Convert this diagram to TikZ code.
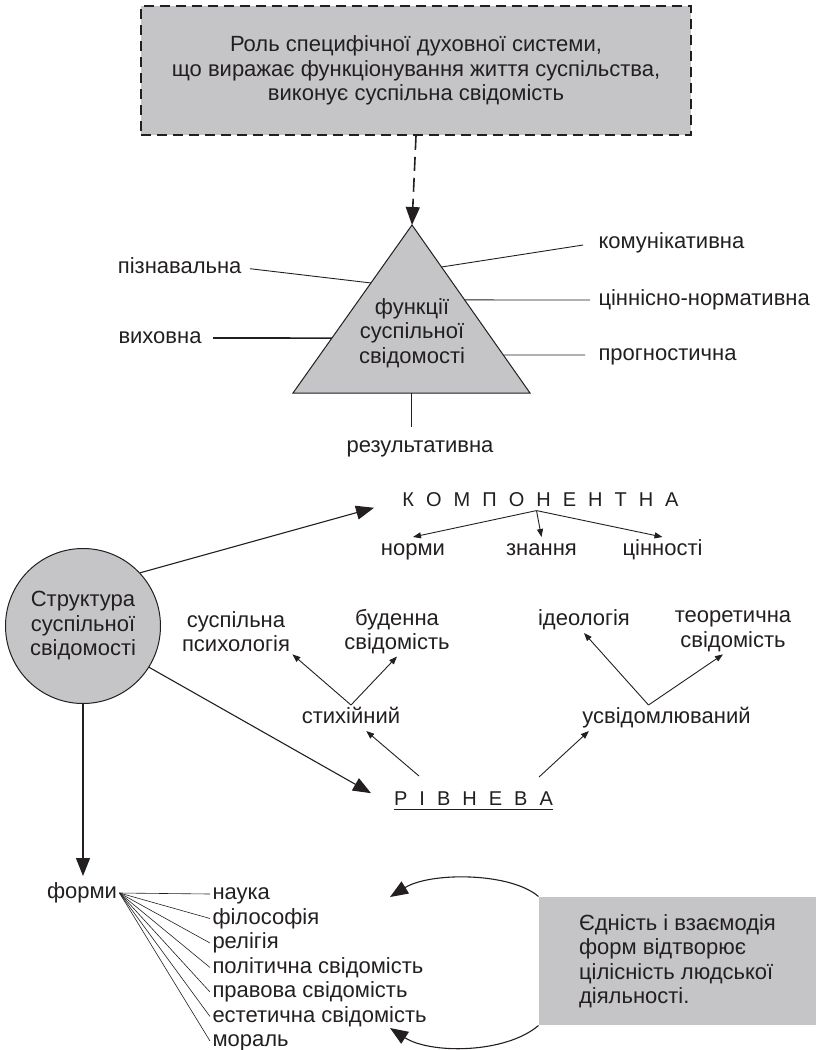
\documentclass[tikz,border=0pt]{standalone}
\usepackage{fontspec}
\setmainfont{Liberation Sans}
\usetikzlibrary{arrows.meta,calc}
\definecolor{fillgray}{RGB}{197,197,199}
\definecolor{ink}{RGB}{35,31,32}
\newcommand\fs{\fontsize{22}{24.5}\selectfont}
\newcommand\fscaps{\fontsize{20}{24}\selectfont\spaceskip=12pt\relax}

\begin{document}
\begin{tikzpicture}[x=1pt,y=-1pt,ink,line width=1pt,
  lbl/.style={font=\fs,inner sep=2pt,text height=16pt,text depth=5pt},
  blk/.style={font=\fs,align=center,inner sep=2pt},
  caps/.style={font=\fscaps,inner sep=0pt},
  bigtip/.style={-{Triangle[length=18pt,width=14pt]},line width=1.1pt},
  smalltip/.style={-{Triangle[length=8pt,width=6pt]},line width=0.9pt},
  thinline/.style={line width=0.9pt},
  thickline/.style={line width=1.6pt},
  fanline/.style={line width=0.6pt}]
  \useasboundingbox (0,0) rectangle (818,1050);

  % ================= роль свідомості (верх) =================
  \node[blk,draw=ink,fill=fillgray,line width=1.6pt,dash pattern=on 10pt off 6pt,
        minimum width=550pt,minimum height=129pt] (role) at (416,70.5)
    {Роль специфічної духовної системи,\\ що виражає функціонування життя суспільства,\\ виконує суспільна свідомість};

  % ================= трикутник функцій =================
  \coordinate (apex) at (412,225);
  \coordinate (bl) at (293,393);
  \coordinate (br) at (530,393);
  \coordinate (tbase) at ($(bl)!0.5!(br)$);
  \draw[fill=fillgray] (apex) -- (br) -- (bl) -- cycle;
  \node[blk] (func) at (412,333) {функції\\суспільної\\свідомості};
  \draw[bigtip,line width=1.6pt,dash pattern=on 14pt off 7pt] (role.south) -- (apex);

  % назви функцій
  \node[lbl,anchor=east] (pizn) at (244,268) {пізнавальна};
  \node[lbl,anchor=west] (vykh) at (116,338) {виховна};
  \node[lbl,anchor=west] (komun) at (596,243) {комунікативна};
  \node[lbl,anchor=west] (tsinn) at (596,300) {ціннісно-нормативна};
  \node[lbl,anchor=west] (progn) at (596,355) {прогностична};
  \node[lbl] (rezul) at (420,447) {результативна};
  \draw[thinline,shorten <=6pt] (pizn.east) -- ($(apex)!0.345!(bl)$);
  \draw[thickline,shorten <=9pt] (vykh.east) -- ($(apex)!0.673!(bl)$);
  \draw[thinline,shorten >=13pt] ($(apex)!0.25!(br)$) -- (komun.west);
  \draw[thinline,shorten >=6pt] ($(apex)!0.446!(br)$) -- (tsinn.west);
  \draw[thinline,shorten >=11pt] ($(apex)!0.774!(br)$) -- (progn.west);
  \draw[thickline,shorten >=7pt] (tbase) -- (tbase |- rezul.north);

  % ================= структура =================
  \node[blk,circle,draw=ink,fill=fillgray,minimum size=155pt,inner sep=0pt] (struct) at (83,626)
    {Структура\\суспільної\\свідомості};

  % компонентна
  \node[caps] (komp) at (540.5,500) {К О М П О Н Е Н Т Н А};
  \draw[bigtip,shorten >=29pt] (struct.43) -- (komp.west);
  \coordinate (kroot) at ($(komp.south)+(-4,3)$);
  \node[lbl] (normy) at (413,550) {норми};
  \node[lbl] (znann) at (541.5,550) {знання};
  \node[lbl] (tsinnosti) at (662.5,550) {цінності};
  \draw[smalltip] (kroot) -- (normy.north);
  \draw[smalltip] (kroot) -- (znann.north);
  \draw[smalltip] (kroot) -- (tsinnosti.north);

  % рівнева
  \node[caps] (riv) at (473.5,798.5) {Р І В Н Е В А};
  \draw[thinline] ([yshift=-4pt]riv.south west) -- ([yshift=-4pt]riv.south east);
  \draw[bigtip,shorten >=26pt] (struct.-32) -- ([yshift=-7.5pt]riv.west);
  \node[lbl] (styx) at (351,718) {стихійний};
  \node[lbl] (usvid) at (666.5,718) {усвідомлюваний};
  \coordinate (rivl) at (419,776);
  \coordinate (rivr) at (539,777);
  \draw[smalltip] (rivl) -- (styx);
  \draw[smalltip] (rivr) -- ([xshift=9pt]usvid.south west);
  \node[blk] (psykh) at (236,631.5) {суспільна\\психологія};
  \node[blk] (buden) at (397,631.5) {буденна\\свідомість};
  \node[lbl] (ideol) at (584,620) {ідеологія};
  \node[blk] (teor) at (733,631.5) {теоретична\\свідомість};
  \draw[smalltip] (styx.north) -- (psykh.south east);
  \draw[smalltip] (styx.north) -- (buden.south);
  \draw[smalltip] ([xshift=-18pt]usvid.north) -- (ideol.south);
  \draw[smalltip] ([xshift=-18pt]usvid.north) -- ([xshift=-10pt]teor.south);

  % ================= форми =================
  \node[lbl] (formy) at (82,893) {форми};
  \draw[bigtip,shorten >=4pt] (struct.south) -- (struct.south |- formy.north);
  \foreach \t [count=\i] in {наука,філософія,релігія,політична свідомість,
      правова свідомість,естетична свідомість,мораль} {
    \node[lbl,anchor=west] (f\i) at (210,869.5+24.5*\i) {\t};
    \draw[fanline] (formy.east) -- (f\i.west);
  }

  % єдність форм
  \node[font=\fs,align=left,fill=fillgray,minimum width=277pt,minimum height=128pt,inner sep=0pt] (unity)
    at (677.5,961) {Єдність і взаємодія\\форм відтворює\\цілісність людської\\діяльності.};
  \coordinate (uptip) at (390,897);
  \coordinate (lowtip) at (390,1028);
  \draw[bigtip] (unity.north west) .. controls (510,872) and (430,872) .. (uptip);
  \draw[bigtip] (unity.south west) .. controls (505,1054) and (430,1054) .. (lowtip);
\end{tikzpicture}
\end{document}
